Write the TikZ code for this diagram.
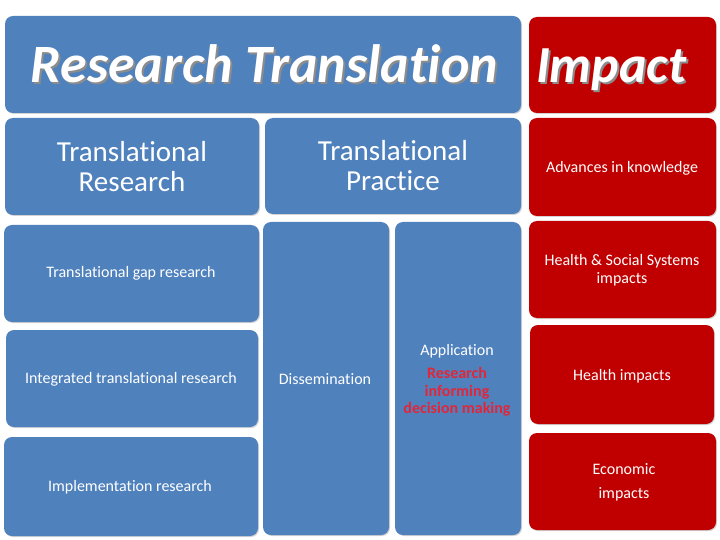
\documentclass[tikz,border=0pt]{standalone}
\usepackage{fontspec}
\setmainfont[Ligatures = NoCommon]{Carlito}
\usetikzlibrary{shadows}
\definecolor{boxblue}{RGB}{79,129,189}
\definecolor{boxred}{RGB}{192,0,0}
\definecolor{textred}{RGB}{226,38,58}
\newcommand{\shadetext}[1]{\rlap{\hspace{2pt}\raisebox{-2pt}{\color{black!45}#1}}#1}
\tikzset{
	blk/.style = {rounded corners = 8pt, inner sep = 0pt, text = white, align = center,
		drop shadow = {shadow xshift = 1pt, shadow yshift = -1pt, opacity = 0.35}},
	bluebox/.style = {blk, fill = boxblue},
	redbox/.style = {blk, fill = boxred},
	big/.style = {font = \fontsize{29}{30}\selectfont},
	small/.style = {font = \fontsize{16}{18}\selectfont},
	huge/.style = {font = \fontsize{54}{56}\selectfont\bfseries\itshape, anchor = base}
}
\begin{document}
\begin{tikzpicture}[x = 1pt, y = -1pt]
	\useasboundingbox (0, 0) rectangle (720, 540);
	% boxes: name/centre x/centre y/width/height/style
	\foreach \n/\cx/\cy/\w/\h/\sty in {
		title/263/64.5/516/97/bluebox, impact/622.5/65/187/96/redbox,
		tres/132/166.5/254/97/bluebox, tprac/393/166/256/96/bluebox, adv/622.5/167/187/98/redbox,
		gap/131.5/273.5/255/97/bluebox, integ/132/378.5/252/97/bluebox, impl/131/486.5/254/99/bluebox,
		diss/326/378.5/126/313/bluebox, appl/458/378.5/126/313/bluebox,
		hss/622.5/269.5/187/97/redbox, himp/622/374.5/184/99/redbox, econ/622.5/481.5/187/97/redbox}
	{
		\node [\sty, minimum width = \w pt, minimum height = \h pt] (\n) at (\cx, \cy) {};
	}
	% headings
	\node [huge, text = white] (titletext) at (264.5, 83) {\shadetext{Research Translation}};
	\node [huge, text = white, font = \fontsize{52}{56}\selectfont\bfseries\itshape] (impacttext) at (611, 83) {\shadetext{Impact}};
	\node [big, text = white, align = center] (trestext) at (tres) {Translational\\Research};
	\node [big, text = white, align = center] (tpractext) at (tprac) {Translational\\Practice};
	% research column
	\node [small, text = white] (gaptext) at (131, 273) {Translational gap research};
	\node [small, text = white] (integtext) at (131, 379) {Integrated translational research};
	\node [small, text = white] (impltext) at (130, 487) {Implementation research};
	% practice column
	\node [small, text = white] (disstext) at (325, 379) {Dissemination};
	\node [small, text = white] (appltext) at (457, 351) {Application};
	\node [text = textred, font = \fontsize{16}{17.5}\selectfont\bfseries, align = center] (inform) at (457, 392) {Research\\informing\\decision making};
	% impact column
	\node [small, text = white] (advtext) at (622, 168) {Advances in knowledge};
	\node [small, text = white, align = center] (hsstext) at (622, 270) {Health \& Social Systems\\impacts};
	\node [small, text = white] (himptext) at (622, 376) {Health impacts};
	\node [text = white, align = center, font = \fontsize{16}{24}\selectfont] (econtext) at (624, 482) {Economic\\impacts};
\end{tikzpicture}
\end{document}
